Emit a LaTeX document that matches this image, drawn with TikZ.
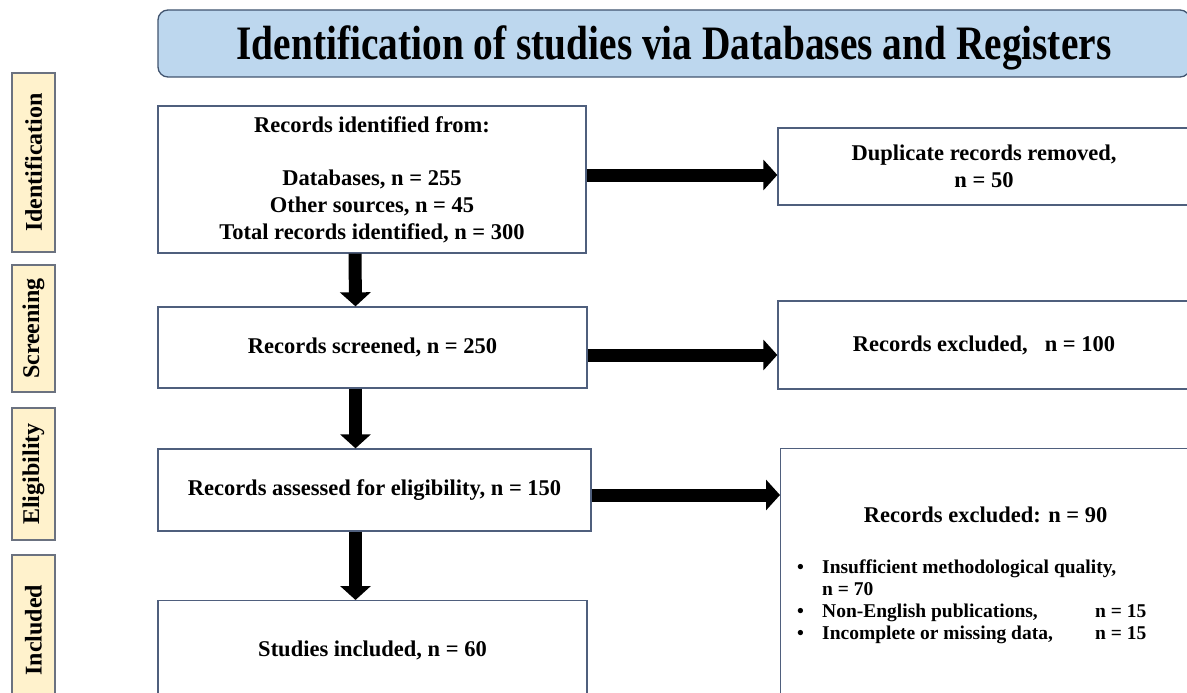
\documentclass[tikz,border=0pt]{standalone}
\usepackage{fontspec}
\setmainfont{Liberation Serif}
\usepackage{graphicx}
\usetikzlibrary{arrows.meta}
\usetikzlibrary{positioning}
\definecolor{prismaTitle}{HTML}{BDD7EE}
\definecolor{prismaTitleLine}{HTML}{41546F}
\definecolor{prismaStage}{HTML}{FFF2CC}
\definecolor{prismaStageLine}{HTML}{6B7280}
\definecolor{prismaBoxLine}{HTML}{4F5F7D}

\begin{document}
\begin{tikzpicture}[x=1pt,y=-1pt]
\tikzset{TitleBox/.style={
  draw=prismaTitleLine,
  fill=prismaTitle,
  line width=1.3pt,
  rounded corners=10pt,
  minimum width=1032pt,
  minimum height=67pt,
  inner sep=0pt,
  text height=33pt,
  text depth=1pt,
  font=\fontsize{48}{54}\selectfont\bfseries
}}
\tikzset{StageBox/.style={
  draw=prismaStageLine,
  fill=prismaStage,
  line width=1.3pt,
  rotate=90,
  minimum height=43pt,
  inner sep=0pt,
  font=\fontsize{24}{27}\selectfont\bfseries
}}
\tikzset{FlowBox/.style={
  draw=prismaBoxLine,
  line width=1.3pt,
  align=center,
  inner sep=0pt,
  font=\fontsize{22.5}{26.7}\selectfont\bfseries
}}
\tikzset{FlowText/.style={
  align=center,
  inner sep=0pt,
  font=\fontsize{22.5}{26.7}\selectfont\bfseries
}}
\tikzset{ListText/.style={
  align=left,
  inner sep=0pt,
  font=\fontsize{19.5}{22}\selectfont\bfseries
}}
\tikzset{FlowArrow/.style={
  draw=black,
  line width=13pt,
  -{Triangle[width=30pt,length=14pt]}
}}

\useasboundingbox (0,0) rectangle (1187,693);
\clip (0,0) rectangle (1187,693);

% title
\node[TitleBox] (title) at (674,43.5) {\scalebox{0.82}[1]{Identification of studies via Databases and Registers}};

% stages
\node[StageBox, minimum width=179pt] (stageIdent) at (33.5,162.5) {Identification};
\node[StageBox, minimum width=127pt] (stageScreen) at (33.5,328.5) {Screening};
\node[StageBox, minimum width=132pt] (stageElig) at (33.5,474) {Eligibility};
\node[StageBox, minimum width=150pt] (stageIncl) at (33.5,630) {Included};

% left column
\node[FlowBox, minimum width=428pt, minimum height=147pt] (ident) at (372,179.5) {Records identified from:\\[26.7pt]
  Databases, n = 255\\
  Other sources, n = 45\\
  Total records identified, n = 300};
\node[FlowBox, minimum width=429pt, minimum height=81pt] (screen) at (372.5,347.5) {Records screened, n = 250};
\node[FlowBox, minimum width=433pt, minimum height=82pt] (assess) at (374.5,490) {Records assessed for eligibility, n = 150};
\node[FlowBox, minimum width=429pt, minimum height=110pt, anchor=north] (incl) at (372.5,600) {};
\node[FlowText] (inclText) at ([yshift=-50pt]incl.north) {Studies included, n = 60};

% right column
\node[FlowBox, minimum width=412pt, minimum height=77pt] (dup) at (984,166.5) {Duplicate records removed,\\ n = 50};
\node[FlowBox, minimum width=412pt, minimum height=88pt] (exclOne) at (984,345) {Records excluded,\hspace{17pt}n = 100};
\node[FlowBox, minimum width=410pt, minimum height=272pt, anchor=north west] (exclTwo) at (780,448) {};
\node[FlowText] (exclTwoHead) at ([yshift=-67pt]exclTwo.north) {Records excluded: n = 90};
\node[ListText, anchor=base west] (exclTwoList) at ([xshift=17pt,yshift=-125pt]exclTwo.north west) {%
  \begin{tabular}[t]{@{}p{25pt}@{}p{273pt}@{}l@{}}
  \textbullet & \multicolumn{2}{@{}l@{}}{Insufficient methodological quality,}\\
   & n = 70 & \\
  \textbullet & Non-English publications, & n = 15\\
  \textbullet & Incomplete or missing data, & n = 15
  \end{tabular}};

% arrows
\coordinate (rowA) at (0,175);
\coordinate (rowB) at (0,355);
\coordinate (rowC) at (0,495);
\draw[FlowArrow] (ident.east |- rowA) -- (dup.west |- rowA);
\draw[FlowArrow] (screen.east |- rowB) -- (exclOne.west |- rowB);
\draw[FlowArrow] (assess.east |- rowC) -- (exclTwo.west |- rowC);
\draw[FlowArrow] ([xshift=-17pt]ident.south) -- ([xshift=-17pt]screen.north);
\draw[FlowArrow] ([xshift=-17pt]screen.south) -- ([xshift=-19pt]assess.north);
\draw[FlowArrow] ([xshift=-19pt]assess.south) -- ([xshift=-17pt]incl.north);
\end{tikzpicture}
\end{document}
